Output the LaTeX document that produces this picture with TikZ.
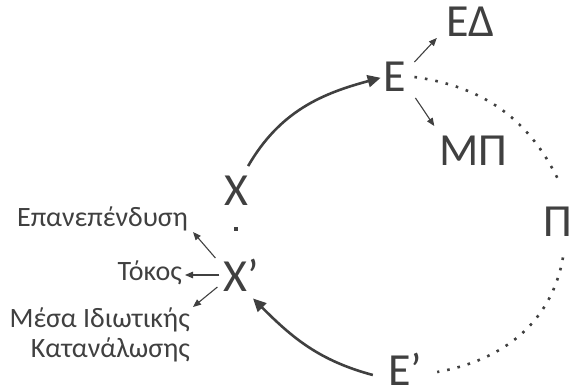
\documentclass[tikz,border=0pt]{standalone}
\usepackage{fontspec}
\setmainfont{Carlito}
\usetikzlibrary{arrows.meta,calc}
\definecolor{ink}{HTML}{404040}
\begin{document}
\begin{tikzpicture}[x=1pt,y=1pt,
  big/.style={inner sep=0pt, text=ink, font=\fontsize{46}{50}\selectfont},
  small/.style={inner sep=0pt, text=ink, font=\fontsize{28}{30}\selectfont},
  mainarrow/.style={draw=ink, line width=2.6pt, -{Triangle[length=13pt,width=12pt]}},
  thinarrow/.style={draw=ink, line width=1.1pt, -{Triangle[length=8pt,width=6.5pt]}},
  dotline/.style={draw=ink, line width=2.6pt, dash pattern=on 2.6pt off 8pt}]
\useasboundingbox (0,0) rectangle (571,389);
% main letters
\node[big] (E) at (395,312) {Ε};
\node[big] (ED) at (470,367) {ΕΔ};
\node[big] (MP) at (473,238) {ΜΠ};
\node[big] (X) at (236,198) {Χ};
\node[fill=ink, minimum size=4pt, inner sep=0pt] (dot) at (236,160) {};
\node[big] (Xp) at (241.5,114) {Χ’};
\node[big] (P) at (558,167) {Π};
\node[big] (Ep) at (405,20) {Ε’};
% small labels
\node[small, anchor=base east] (Epan) at (188,162) {Επανεπένδυση};
\node[small, anchor=base east] (Tok) at (182,109) {Τόκος};
\node[small, anchor=north east, align=right] (Mesa) at (190,81) {Μέσα Ιδιωτικής\\Κατανάλωσης};
% main arcs
\draw[mainarrow, shorten >=3pt] ($(X.north east)+(0,10)$) to[out=60,in=195] (E.west);
\draw[mainarrow] ($(Ep.west)+(-15,-6)$) to[out=165,in=-45] ($(Xp.south)+(11.5,-7)$);
% dotted arcs
\draw[dotline] ($(E.east)+(8,0)$) to[out=-8,in=115] ($(P.north)+(2,23.5)$);
\draw[dotline] ($(P.south)+(5,-20.5)$) to[out=-100,in=10] ($(Ep.east)+(15,-3)$);
% thin arrows
\draw[thinarrow] ($(E.north east)+(8,0)$) -- ($(ED.south west)+(-9,-1)$);
\draw[thinarrow] ($(E.south east)+(9,-6)$) -- ($(MP.north west)+(-4.5,10)$);
\draw[thinarrow] ($(Xp.west)+(-8,17)$) -- ($(Epan.base east)+(5,-5)$);
\draw[thinarrow] ($(Xp.west)+(-4,0)$) -- ($(Tok.base east)+(3,5)$);
\draw[thinarrow] ($(Xp.west)+(-6,-12)$) -- ($(Mesa.north east)+(3,1)$);
\end{tikzpicture}
\end{document}
